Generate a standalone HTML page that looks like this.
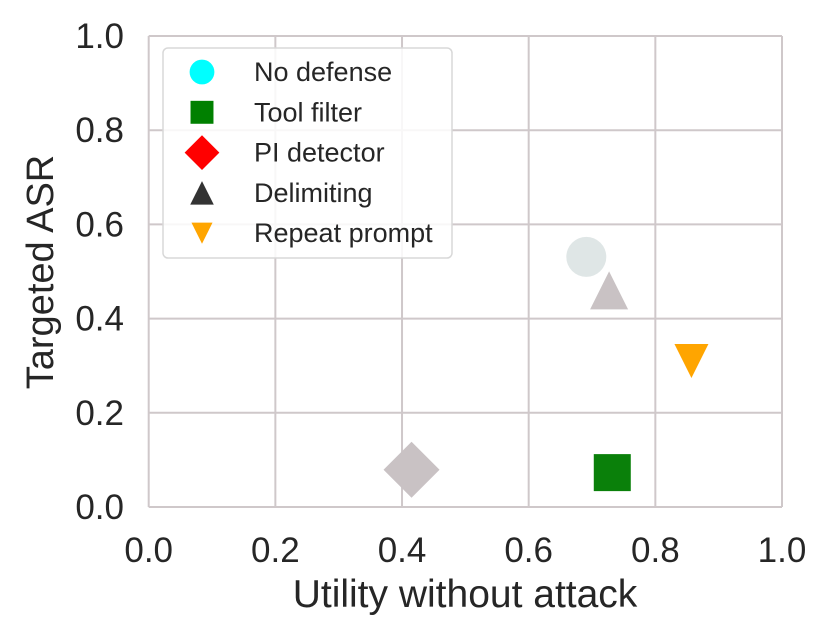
<!DOCTYPE html>
<html><head><meta charset="utf-8"><style>
body{margin:0;background:#fff}
svg{display:block;font-family:"Liberation Sans",sans-serif}
</style></head><body>
<svg id="chart" width="831" height="637">
<g id="grid"></g><g id="marks"></g><g id="axes"></g><g id="legend"></g>
</svg>
<script>
const ticks=[0,0.2,0.4,0.6,0.8,1.0];
const tickLabels=["0.0","0.2","0.4","0.6","0.8","1.0"];
const seriesNames=["No defense","Tool filter","PI detector","Delimiting","Repeat prompt"];
const utility=[0.691,0.732,0.415,0.727,0.857];
const asr=[0.531,0.073,0.079,0.46,0.31];
const plotColors=["#dfe6e6","#0a800a","#c9c2c4","#c9c2c4","#ffa500"];
const legendColors=["#00ffff","#008000","#ff0000","#333333","#ffa500"];
const shapes=["circle","square","diamond","up","down"];
const NS="http://www.w3.org/2000/svg";
const X0=148.7,X1=782,Y0=507,Y1=36;
const sx=v=>X0+(X1-X0)*v, sy=v=>Y0-(Y0-Y1)*v;
function el(t,a,p){const e=document.createElementNS(NS,t);for(const k in a)e.setAttribute(k,a[k]);p.appendChild(e);return e;}
const grid=document.getElementById('grid'),axes=document.getElementById('axes'),marks=document.getElementById('marks'),leg=document.getElementById('legend');
ticks.forEach((t,i)=>{
 const gx=el('line',{x1:sx(t),x2:sx(t),y1:Y1,y2:Y0,stroke:'#cfc8ca','stroke-width':2},grid);
 
 
 const gy=el('line',{x1:X0,x2:X1,y1:sy(t),y2:sy(t),stroke:'#cfc8ca','stroke-width':2},grid);
 
 
 const tx=el('text',{x:sx(t),y:562,'text-anchor':'middle','font-size':35,fill:'#262626'},axes);tx.textContent=tickLabels[i];
 
 
 const ty=el('text',{x:124,y:sy(t)+12,'text-anchor':'end','font-size':35,fill:'#262626'},axes);ty.textContent=tickLabels[i];
 
 
});
const xt=el('text',{x:465,y:607,'text-anchor':'middle','font-size':39,fill:'#262626'},axes);xt.textContent='Utility without attack';


const yt=el('text',{x:0,y:0,transform:'translate(53,272) rotate(-90)','text-anchor':'middle','font-size':38,fill:'#262626'},axes);yt.textContent='Targeted ASR';


function shape(s,cx,cy,k,c,p){
 if(s==='circle')return el('circle',{cx,cy,r:20*k,fill:c},p);
 if(s==='square')return el('rect',{x:cx-18.5*k,y:cy-18.5*k,width:37*k,height:37*k,fill:c},p);
 if(s==='diamond'){const h=28*k;return el('polygon',{points:`${cx},${cy-h} ${cx+h},${cy} ${cx},${cy+h} ${cx-h},${cy}`,fill:c},p);}
 if(s==='up'){const w=19*k,h=19*k;return el('polygon',{points:`${cx},${cy-h} ${cx+w},${cy+h} ${cx-w},${cy+h}`,fill:c},p);}
 const w=17*k,h=17*k;return el('polygon',{points:`${cx-w},${cy-h} ${cx+w},${cy-h} ${cx},${cy+h}`,fill:c},p);
}
seriesNames.forEach((n,i)=>{
 const m=shape(shapes[i],sx(utility[i]),sy(asr[i]),1,plotColors[i],marks);
 
 
});
const lb=el('rect',{x:163,y:48,width:289,height:210,rx:5,fill:'#fff','fill-opacity':0.85,stroke:'#d8d8d8','stroke-width':1.5},leg);


seriesNames.forEach((n,i)=>{
 const y=72+40.3*i;
 const m=shape(shapes[i],202,y,0.62,legendColors[i],leg);
 
 
 const t=el('text',{x:254,y:y+9,'font-size':27,fill:'#262626'},leg);t.textContent=n;
 
 
});
</script>
</body></html>
